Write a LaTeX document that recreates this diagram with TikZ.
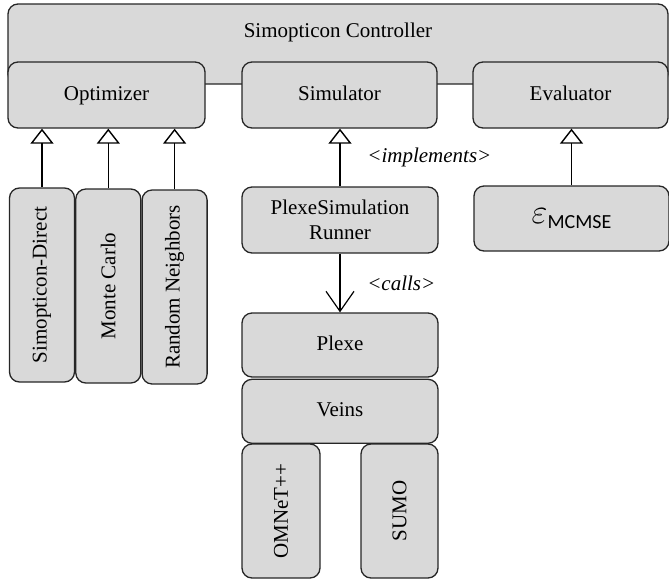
\documentclass[tikz,border=0pt]{standalone}
\usepackage{fontspec}
\setmainfont{Liberation Serif}
\newfontfamily\mcmsefont{Carlito}
\usepackage{tikz}
\usetikzlibrary{positioning, arrows.meta, shapes.geometric}

\begin{document}
\begin{tikzpicture}[
                x=0.5pt, y=-0.5pt,
                box/.style={draw=black!85, line width=0.65pt, rectangle, rounded corners=5pt, fill=black!15, font=\rmfamily\fontsize{10.5}{12.5}\selectfont, inner sep=2pt},
                widebox/.style={box, minimum width=98pt, minimum height=33pt},
                evenbox/.style={text height=1.6ex, text depth=0.45ex},
                tallbox/.style={box, rotate=90, minimum width=97pt, minimum height=32.5pt},
                impl/.style={line width=0.7pt, -{Triangle[open, length=7.5pt, width=11.5pt, fill=white]}},
                calls/.style={line width=0.6pt, -{Straight Barb[length=10pt, width=14pt]}},
                edgelabel/.style={font=\rmfamily\fontsize{10.5}{12.5}\selectfont\itshape}
            ]
            \useasboundingbox (0,0) rectangle (669,579);

            % Knoten
            \node[box, minimum width=330pt, minimum height=40pt,
                  label={[anchor=center, yshift=-14.5pt, font=\rmfamily\fontsize{10.5}{12.5}\selectfont]north:Simopticon Controller}] (ctrl) at (338,44) {};
            \node[widebox, evenbox, minimum width=98.5pt] (opt) at (106.5,95) {Optimizer};
            \node[widebox, evenbox, minimum width=97.5pt] (sim) at (339.5,95) {Simulator};
            \node[widebox, evenbox, minimum width=97.5pt] (eval) at (570.5,95) {Evaluator};

            \node[tallbox] (direct) at (42,285) {Simopticon-Direct};
            \node[tallbox, below=0.5pt of direct] (mc) {Monte Carlo};
            \node[tallbox, below=0.5pt of mc] (rn) {Random Neighbors};

            \node[widebox, align=center, minimum height=33pt] (runner) at (340,220) {PlexeSimulation\\Runner};
            \node[widebox, minimum width=97.5pt, minimum height=32.5pt] (eps) at (571.5,218.5)
                {{\fontsize{16}{16}\selectfont$\varepsilon$}\raisebox{-2.5pt}{\mcmsefont\fontsize{10}{11}\selectfont MCMSE}};

            \node[widebox, evenbox, minimum height=32pt] (plexe) at (340,345) {Plexe};
            \node[widebox, evenbox, minimum height=32pt, below=0.5pt of plexe] (veins) {Veins};
            \node[box, rotate=90, minimum width=67pt, minimum height=39pt] (omnet) at (281,511) {OMNeT++};
            \node[box, rotate=90, minimum width=67pt, minimum height=38.5pt] (sumo) at (399.5,511) {SUMO};

            % Kanten zwischen Knoten
            \draw[impl] (direct.east) -- (direct.east |- opt.south);
            \draw[impl] (mc.east) -- (mc.east |- opt.south);
            \draw[impl] (rn.east) -- (rn.east |- opt.south);
            \draw[impl] (runner.north) -- (runner.north |- sim.south) node[midway, right=10pt, edgelabel] {<implements>};
            \draw[impl] (eps.north) -- (eps.north |- eval.south);
            \draw[calls] (runner.south) -- (plexe.north) node[midway, right=10pt, edgelabel] {<calls>};

        \end{tikzpicture}
\end{document}
